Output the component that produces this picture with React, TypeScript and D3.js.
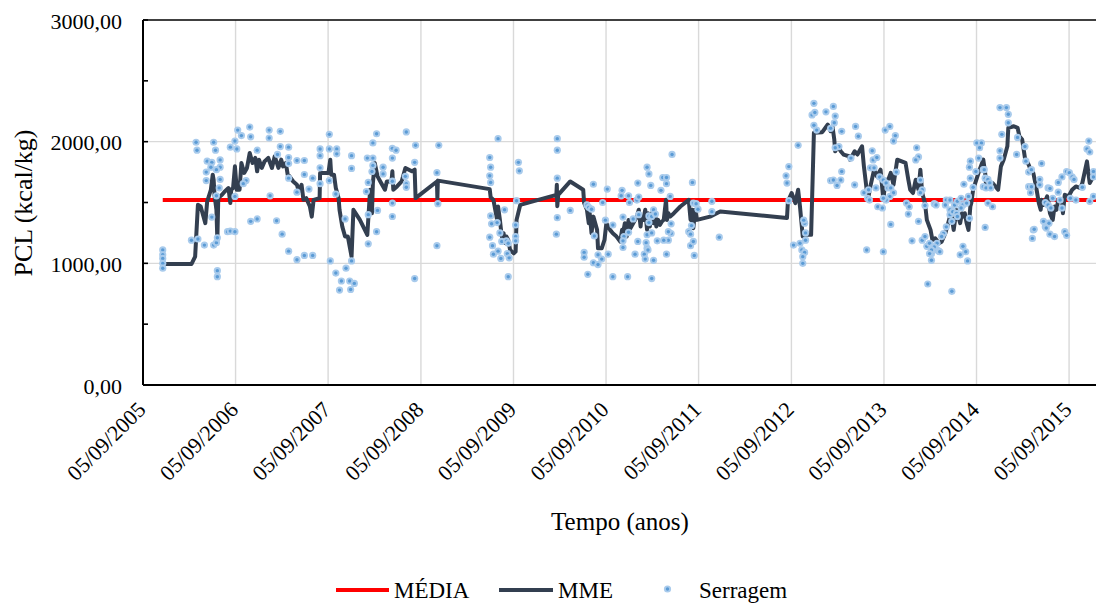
import React from 'react';
import * as d3 from 'd3';

// ---- DATA (time as decimal years, values in kcal/kg) ----
const scatterYears = [
  2005.89, 2005.89, 2005.89, 2005.89, 2005.89,
  2006.20, 2006.27, 2006.34, 2006.25, 2006.26, 2006.37, 2006.42, 2006.41, 2006.36, 2006.36,
  2006.44, 2006.46, 2006.51, 2006.51, 2006.51, 2006.50, 2006.47, 2006.47, 2006.42, 2006.44,
  2006.47, 2006.48, 2006.48, 2006.48, 2006.59, 2006.62, 2006.67, 2006.67, 2006.69, 2006.62,
  2006.67, 2006.70, 2006.74, 2006.83, 2006.84, 2006.79, 2006.76, 2006.91, 2006.84, 2006.91,
  2007.04, 2007.04, 2007.16, 2007.13, 2007.16, 2007.25, 2007.25, 2007.25, 2007.25, 2007.05,
  2007.12, 2007.18, 2007.25, 2007.34, 2007.34, 2007.42, 2007.34, 2007.42, 2007.47, 2007.51,
  2007.42, 2007.51, 2007.59, 2007.59, 2007.59, 2007.59, 2007.69, 2007.69, 2007.69, 2007.77,
  2007.77, 2007.76, 2007.70, 2007.76, 2007.82, 2007.80, 2007.86, 2007.87, 2007.91, 2007.92,
  2007.96, 2007.93, 2007.93, 2007.93,
  2008.10, 2008.16, 2008.16, 2008.15, 2008.16, 2008.20, 2008.11, 2008.09, 2008.11, 2008.11,
  2008.21, 2008.20, 2008.27, 2008.27, 2008.37, 2008.41, 2008.37, 2008.37, 2008.37, 2008.37,
  2008.51, 2008.52, 2008.52, 2008.52, 2008.62, 2008.61, 2008.61, 2008.87, 2008.85, 2008.86,
  2008.85,
  2009.51, 2009.42, 2009.43, 2009.42, 2009.43, 2009.43, 2009.44, 2009.50, 2009.58, 2009.42,
  2009.45, 2009.46, 2009.51, 2009.54, 2009.55, 2009.53, 2009.60, 2009.62, 2009.61, 2009.63,
  2009.70, 2009.70, 2009.70, 2009.62, 2009.73, 2009.74, 2009.71,
  2010.15, 2010.15, 2010.15, 2010.15, 2010.14, 2010.29, 2010.54, 2010.47, 2010.49, 2010.52,
  2010.55, 2010.44, 2010.44, 2010.48, 2010.54, 2010.59, 2010.59, 2010.63, 2010.70, 2010.64,
  2010.69, 2010.67, 2010.75, 2010.75, 2010.85, 2010.84, 2010.92, 2010.93, 2010.86, 2010.87,
  2010.86, 2010.86, 2010.92, 2010.91, 2010.97, 2010.99,
  2011.02, 2011.01, 2011.03, 2011.03, 2011.02, 2011.09, 2011.12, 2011.14, 2011.16, 2011.14,
  2011.17, 2011.14, 2011.12, 2011.11, 2011.12, 2011.13, 2011.10, 2011.19, 2011.17, 2011.19,
  2011.21, 2011.23, 2011.17, 2011.27, 2011.29, 2011.33, 2011.33, 2011.39, 2011.37, 2011.38,
  2011.38, 2011.35, 2011.35, 2011.30, 2011.33, 2011.61, 2011.62, 2011.65, 2011.67, 2011.57,
  2011.59, 2011.60, 2011.59, 2011.62, 2011.63, 2011.82, 2011.82, 2011.90,
  2012.65, 2012.62, 2012.63, 2012.65, 2012.70, 2012.77, 2012.82, 2012.81, 2012.83, 2012.83,
  2012.79, 2012.82, 2012.80, 2012.80, 2012.75, 2012.92, 2012.90, 2012.93,
  2013.05, 2013.13, 2013.14, 2013.15, 2012.92, 2012.95, 2013.10, 2013.22, 2013.37, 2013.40,
  2013.69, 2013.74, 2013.80, 2013.78, 2013.19, 2013.15, 2013.32, 2013.55, 2013.56, 2013.60,
  2013.53, 2013.57, 2013.22, 2013.21, 2013.10, 2013.13, 2013.17, 2013.36, 2013.51, 2013.59,
  2013.63, 2013.67, 2013.70, 2013.72, 2013.75, 2013.78, 2013.74, 2013.70, 2013.67, 2013.61,
  2013.66, 2013.46, 2013.50, 2013.52, 2013.75,
  2014.03, 2014.05, 2014.02, 2013.81, 2014.07, 2014.09, 2014.07, 2013.92, 2013.95, 2013.94,
  2014.05, 2014.12, 2014.22, 2013.98, 2013.49, 2013.67, 2014.09, 2014.12, 2014.14, 2014.17,
  2014.19, 2014.19, 2014.15, 2014.21, 2014.25, 2014.27,
  2014.93, 2015.00, 2015.02, 2015.02, 2014.95, 2015.12, 2014.68, 2014.73, 2014.71, 2014.93,
  2014.93, 2015.20, 2015.11, 2015.21, 2014.70, 2014.61, 2014.60, 2014.67, 2014.75, 2014.76,
  2014.77, 2014.80, 2014.82, 2014.75, 2014.78, 2014.83, 2014.54, 2014.61, 2014.64,
  2015.24, 2015.27, 2015.38, 2015.24, 2015.27, 2015.26, 2015.36, 2015.36, 2015.45, 2015.47,
  2015.56, 2015.60, 2015.65, 2015.68, 2015.71, 2015.73, 2015.82, 2015.89, 2015.87, 2015.90,
  2015.94, 2015.94, 2014.80, 2014.85, 2014.77, 2015.42, 2015.45, 2015.48, 2015.50, 2015.56,
  2015.58, 2015.60, 2015.75, 2015.69, 2015.40, 2015.42, 2015.46, 2015.47, 2015.52, 2015.43,
  2015.29, 2015.30, 2015.28, 2015.63, 2015.65, 2015.90, 2015.94,
  2014.35, 2014.39, 2014.34, 2014.44, 2014.47, 2014.51, 2014.53, 2014.57, 2014.59, 2014.39,
  2014.39, 2014.42, 2014.46, 2014.47, 2014.51, 2014.60, 2014.35, 2014.41, 2014.32, 2014.30,
  2014.25, 2014.22, 2014.28, 2014.19, 2014.17, 2014.53, 2014.56, 2014.50, 2014.58, 2014.41,
  2014.24,
];

const scatterValues = [
  1110, 1070, 1040, 1000, 960,
  1190, 1200, 1150, 1995, 1930, 1840, 1830, 1790, 1750, 1680,
  1995, 1930, 1850, 1790, 1690, 1620, 1555, 1770, 1380, 1150,
  1170, 1210, 940, 890, 1260, 1265, 1260, 1550, 1940, 1955,
  2005, 2095, 2050, 2120, 2040, 1680, 1655, 1930, 1345, 1365,
  2095, 2030, 2085, 1895, 1960, 1955, 1870, 1820, 1700, 1555,
  1350, 1240, 1100, 1030, 1845, 1845, 1585, 1730, 1610, 1700,
  1065, 1065, 1940, 1885, 1785, 1655, 2060, 1940, 1680, 1940,
  1900, 1570, 1020, 920, 855, 780, 1365, 960, 855, 785,
  835, 1020, 1885, 1780,
  1865, 1865, 1805, 1755, 1990, 2065, 1665, 1590, 1400, 1160,
  1435, 1260, 1790, 1735, 1945, 1930, 1865, 1675, 1495, 1385,
  1715, 1655, 1625, 2080, 1970, 1830, 875, 1970, 1745, 1490,
  1145,
  2025, 1870, 1790, 1720, 1665, 1390, 1325, 1335, 1440, 1215,
  1145, 1075, 1100, 1040, 1180, 1250, 1185, 1165, 1080, 1045,
  1315, 1220, 1185, 890, 1830, 1760, 1515,
  2025, 1930, 1700, 1375, 1240, 1435, 1650, 1480, 1460, 1445,
  1225, 1090, 1050, 910, 1005, 990, 1070, 1035, 1075, 1500,
  1610, 1355, 1315, 890, 1600, 1555, 1555, 1500, 1380, 1220,
  1185, 1130, 1255, 890, 1365, 1075,
  1660, 1520, 1545, 1400, 1180, 1075, 1790, 1735, 1640, 1390,
  1385, 1335, 1235, 1170, 1125, 1110, 1035, 1025, 875, 1440,
  1405, 1185, 1250, 1600, 1705, 1705, 1655, 1895, 1550, 1325,
  1245, 1260, 1190, 1190, 1075, 1665, 1495, 1490, 1445, 1260,
  1240, 1310, 1145, 1180, 1065, 1510, 1425, 1215,
  1795, 1720, 1660, 1515, 1150, 1165, 1330, 1355, 1250, 1190,
  1110, 1090, 1055, 1000, 1970, 2315, 2220, 2240,
  2245, 2290, 2155, 2210, 2135, 2095, 2110, 2085, 2125, 2045,
  2095, 2125, 2050, 2005, 1960, 1950, 1865, 1925, 1850, 1870,
  1785, 1785, 1755, 1685, 1680, 1685, 1640, 1645, 1605, 1620,
  1710, 1685, 1660, 1620, 1620, 1580, 1550, 1520, 1535, 1465,
  1455, 1580, 1535, 1520, 1320,
  1950, 1875, 1850, 1750, 1685, 1605, 1580, 1495, 1465, 1405,
  1345, 1475, 1490, 1185, 1110, 1095, 1190, 1220, 1140, 1165,
  1080, 1025, 830, 1135, 1110, 1100,
  2280, 2280, 2225, 2155, 2060, 2035, 1990, 1990, 1950, 1925,
  1865, 1960, 1895, 1840, 1865, 1840, 1790, 1755, 1770, 1770,
  1700, 1690, 1660, 1630, 1620, 1620, 1650, 1700, 1625,
  1750, 1770, 1820, 1630, 1630, 1580, 1690, 1645, 1620, 1615,
  1665, 1710, 1755, 1745, 1710, 1690, 1625, 2005, 1940, 1915,
  1755, 1710, 1495, 1465, 1295, 1500, 1480, 1455, 1535, 1585,
  1520, 1455, 1520, 1535, 1345, 1300, 1330, 1240, 1220, 1290,
  1275, 1280, 1205, 1260, 1230, 1510, 1550,
  1520, 1520, 1480, 1480, 1510, 1535, 1480, 1495, 1550, 1440,
  1400, 1425, 1410, 1385, 1455, 1370, 1300, 1345, 1245, 1220,
  1165, 1135, 1095, 1110, 1080, 1140, 1095, 1070, 1020, 770,
  1480,
];

const mmeYears = [
  2005.89, 2006.20, 2006.24, 2006.27, 2006.30, 2006.35, 2006.37, 2006.41, 2006.43, 2006.44,
  2006.45, 2006.47, 2006.48, 2006.49, 2006.53, 2006.56, 2006.60, 2006.62, 2006.63, 2006.65,
  2006.67, 2006.69, 2006.72, 2006.74, 2006.77, 2006.80, 2006.83, 2006.86, 2006.89, 2006.91,
  2006.93, 2006.96, 2006.99, 2007.03, 2007.07, 2007.10, 2007.14, 2007.17, 2007.19, 2007.22,
  2007.24, 2007.26, 2007.30, 2007.34, 2007.36, 2007.39, 2007.41, 2007.44, 2007.48, 2007.50,
  2007.52, 2007.585, 2007.59, 2007.68, 2007.70, 2007.71, 2007.74, 2007.76, 2007.79, 2007.80,
  2007.83, 2007.86, 2007.89, 2007.93, 2007.95, 2008.02, 2008.10, 2008.13, 2008.15, 2008.16,
  2008.18, 2008.21, 2008.24, 2008.29, 2008.31, 2008.36, 2008.37, 2008.38, 2008.42, 2008.47,
  2008.51, 2008.58, 2008.61, 2008.62, 2008.85, 2008.855, 2008.86,
  2009.42, 2009.43, 2009.46, 2009.48, 2009.50, 2009.51, 2009.53, 2009.55, 2009.57, 2009.59,
  2009.60, 2009.62, 2009.64, 2009.68, 2009.70, 2009.71, 2009.75,
  2010.14, 2010.145, 2010.15, 2010.16, 2010.29, 2010.43, 2010.44, 2010.47, 2010.49, 2010.50,
  2010.52, 2010.54, 2010.58, 2010.59, 2010.63, 2010.66, 2010.68, 2010.72, 2010.75, 2010.79,
  2010.83, 2010.85, 2010.86, 2010.88, 2010.90, 2010.92, 2010.94, 2010.97, 2011.01, 2011.03,
  2011.05, 2011.06, 2011.08, 2011.10, 2011.12, 2011.13, 2011.15, 2011.17, 2011.19, 2011.21,
  2011.22, 2011.24, 2011.26, 2011.28, 2011.30, 2011.325, 2011.335, 2011.35, 2011.37, 2011.41,
  2011.48, 2011.57, 2011.59, 2011.61, 2011.62, 2011.64, 2011.66, 2011.80, 2011.91,
  2012.63, 2012.64, 2012.68, 2012.72, 2012.75, 2012.77, 2012.80, 2012.84, 2012.89, 2012.92,
  2013.01, 2013.07, 2013.10, 2013.12, 2013.14, 2013.15, 2013.18, 2013.21, 2013.24, 2013.30,
  2013.31, 2013.36, 2013.39, 2013.44, 2013.46, 2013.49, 2013.51, 2013.53, 2013.57, 2013.60,
  2013.64, 2013.67, 2013.69, 2013.73, 2013.75, 2013.78, 2013.82, 2013.91, 2013.94, 2013.96,
  2013.99, 2014.02, 2014.05, 2014.07, 2014.09, 2014.12, 2014.14, 2014.18, 2014.20, 2014.23,
  2014.27, 2014.30, 2014.34, 2014.37, 2014.39, 2014.41, 2014.43, 2014.44, 2014.46, 2014.48,
  2014.50, 2014.52, 2014.54, 2014.55, 2014.57, 2014.59, 2014.61, 2014.62, 2014.64, 2014.68,
  2014.71, 2014.75, 2014.77, 2014.78, 2014.82, 2014.85, 2014.91, 2014.94, 2014.97, 2015.01,
  2015.02, 2015.08, 2015.12, 2015.14, 2015.17, 2015.20, 2015.24, 2015.26, 2015.29, 2015.32,
  2015.35, 2015.37, 2015.38, 2015.40, 2015.44, 2015.45, 2015.47, 2015.50, 2015.52, 2015.54,
  2015.56, 2015.60, 2015.61, 2015.63, 2015.67, 2015.71, 2015.75, 2015.80, 2015.82, 2015.87,
  2015.89, 2015.90, 2015.94, 2015.97,
];

const mmeValues = [
  994, 994, 1055, 1481, 1467, 1330, 1508, 1605, 1729, 1687,
  1555, 1440, 1192, 1536, 1563, 1591, 1619, 1495, 1605, 1619,
  1797, 1605, 1605, 1825, 1743, 1784, 1907, 1825, 1866, 1756,
  1852, 1784, 1838, 1866, 1784, 1880, 1784, 1852, 1797, 1825,
  1729, 1715, 1673, 1646, 1591, 1646, 1522, 1536, 1467, 1384,
  1522, 1536, 1743, 1743, 1852, 1729, 1729, 1619, 1536, 1440,
  1302, 1220, 1220, 1055, 1440, 1357, 1234, 1605, 1412, 1660,
  1825, 1715, 1673, 1605, 1673, 1673, 1756, 1605, 1632, 1673,
  1784, 1756, 1770, 1536, 1673, 1530, 1680,
  1610, 1544, 1522, 1440, 1357, 1467, 1357, 1220, 1247, 1165,
  1220, 1192, 1110, 1082, 1096, 1357, 1481,
  1563, 1646, 1470, 1563, 1673, 1605, 1495, 1440, 1330, 1412,
  1247, 1384, 1275, 1123, 1123, 1192, 1330, 1275, 1247, 1220,
  1178, 1275, 1247, 1330, 1220, 1357, 1289, 1330, 1384, 1440,
  1302, 1384, 1357, 1440, 1275, 1412, 1302, 1412, 1330, 1384,
  1302, 1357, 1316, 1343, 1357, 1522, 1357, 1412, 1384, 1412,
  1467, 1522, 1357, 1440, 1289, 1440, 1357, 1384, 1426,
  1372, 1509, 1578, 1495, 1605, 1467, 1220, 1234, 1234, 2073,
  2078, 2141, 2086, 2127, 2017, 1921, 1962, 1921, 1894, 1880,
  1852, 1921, 1894, 1962, 1797, 1605, 1550, 1632, 1770, 1715,
  1770, 1522, 1660, 1701, 1743, 1646, 1852, 1825, 1687, 1605,
  1578, 1687, 1605, 1770, 1578, 1495, 1357, 1275, 1192, 1206,
  1165, 1178, 1247, 1330, 1384, 1371, 1275, 1330, 1440, 1384,
  1330, 1412, 1384, 1412, 1330, 1275, 1467, 1495, 1605, 1701,
  1770, 1852, 1743, 1646, 1632, 1660, 1605, 1797, 1852, 1962,
  2114, 2127, 2114, 2045, 2017, 1866, 1811, 1770, 1743, 1632,
  1495, 1440, 1522, 1481, 1550, 1522, 1412, 1357, 1467, 1440,
  1522, 1522, 1412, 1563, 1550, 1605, 1632, 1619, 1660, 1838,
  1715, 1660, 1715, 1743,
];

const mediaValue = 1520;
const mediaYears = [2005.89, 2016.0];
const yTickValues = [0, 1000, 2000, 3000];
const yMinorTicks = [0, 500, 1000, 1500, 2000, 2500, 3000];
const xTickYears = [2005, 2006, 2007, 2008, 2009, 2010, 2011, 2012, 2013, 2014, 2015];

const legendItems = ['MÉDIA', 'MME', 'Serragem'];

function yearToDate(t: number): Date {
  const y = Math.floor(t);
  const s = new Date(y, 0, 1).getTime();
  const e = new Date(y + 1, 0, 1).getTime();
  return new Date(s + (t - y) * (e - s));
}

const FONT = "'Liberation Serif', 'Times New Roman', serif";

export default function App() {
  const W = 1096, H = 603;
  const L = 143, T = 20, B = 385, R = 1099;
  const x = d3.scaleTime().domain([new Date(2005, 8, 5), new Date(2016, 0, 1)]).range([L, R]);
  const y = d3.scaleLinear().domain([0, 3000]).range([B, T]);
  const fmtY = (v: number) => d3.format('.2f')(v).replace('.', ',');
  const fmtX = d3.timeFormat('%d/%m/%Y');
  const tickDates = xTickYears.map((yr) => new Date(yr, 8, 5));

  const mmePts: [number, number][] = mmeYears.map((t, i) => [t, mmeValues[i]]);
  const line = d3.line<[number, number]>().x((d) => x(yearToDate(d[0]))).y((d) => y(d[1]));
  const mediaPts: [number, number][] = mediaYears.map((t) => [t, mediaValue]);

  return (
    <div style={{ position: 'absolute', left: 0, top: 0 }}>
      <svg width={W} height={H} style={{ display: 'block', background: '#fff' }} fontFamily={FONT}>
        <defs>
          <clipPath id="plotclip">
            <rect x={L} y={T - 5} width={R - L} height={B - T + 10} />
          </clipPath>
        </defs>
        {/* gridlines */}
        {tickDates.slice(1).map((d, i) => (
          <line key={'vg' + i} x1={x(d)} x2={x(d)} y1={T} y2={B} stroke="#d9d9d9" strokeWidth={1.4} />
        ))}
        {yTickValues.slice(1, 3).map((v) => (
          <line key={'hg' + v} x1={L} x2={W} y1={y(v)} y2={y(v)} stroke="#d9d9d9" strokeWidth={1.4} />
        ))}
        {/* top border */}
        <line x1={L} x2={W} y1={T} y2={T} stroke="#000" strokeWidth={1.6} />
        {/* axes */}
        <line x1={L} x2={L} y1={T} y2={B} stroke="#000" strokeWidth={2} />
        <line x1={L} x2={W} y1={B} y2={B} stroke="#000" strokeWidth={2} />
        {yMinorTicks.map((v) => (
          <line key={'yt' + v} x1={L} x2={L + 5} y1={y(v)} y2={y(v)} stroke="#000" strokeWidth={1.6} />
        ))}
        {/* y tick labels */}
        {yTickValues.map((v) => (
          <text key={'yl' + v} x={122} y={y(v) + 8.5} textAnchor="end" fontSize={22} fill="#000">
            {fmtY(v)}
          </text>
        ))}
        {/* x tick labels */}
        {tickDates.map((d, i) => (
          <text
            key={'xl' + i}
            transform={`translate(${x(d) + 4},${411}) rotate(-45)`}
            textAnchor="end"
            fontSize={22}
            fill="#000"
          >
            {fmtX(d)}
          </text>
        ))}
        {/* axis titles */}
        <text transform="translate(32,203) rotate(-90)" textAnchor="middle" fontSize={26} fill="#000">
          PCL (kcal/kg)
        </text>
        <text x={620} y={530} textAnchor="middle" fontSize={25} fill="#000">
          Tempo (anos)
        </text>
        <g clipPath="url(#plotclip)">
          <path d={line(mediaPts) || ''} fill="none" stroke="#ff0000" strokeWidth={4} />
          <path d={line(mmePts) || ''} fill="none" stroke="#333f50" strokeWidth={4} strokeLinejoin="round" />
          {scatterYears.map((t, i) => {
            const cx = x(yearToDate(t));
            const cy = y(scatterValues[i]);
            return (
              <g key={'p' + i}>
                <circle cx={cx} cy={cy} r={3.6} fill="#a9cbec" />
                <circle cx={cx} cy={cy} r={1.7} fill="#5b9bd5" />
              </g>
            );
          })}
        </g>
        {/* legend */}
        <line x1={336} x2={389} y1={590} y2={590} stroke="#ff0000" strokeWidth={4} />
        <text x={394} y={598} fontSize={23} fill="#000">{legendItems[0]}</text>
        <line x1={499} x2={553} y1={590} y2={590} stroke="#333f50" strokeWidth={4} />
        <text x={558} y={598} fontSize={23} fill="#000">{legendItems[1]}</text>
        <circle cx={667.5} cy={589} r={3.6} fill="#a9cbec" />
        <circle cx={667.5} cy={589} r={1.7} fill="#5b9bd5" />
        <text x={699} y={598} fontSize={23} fill="#000">{legendItems[2]}</text>
      </svg>
    </div>
  );
}
